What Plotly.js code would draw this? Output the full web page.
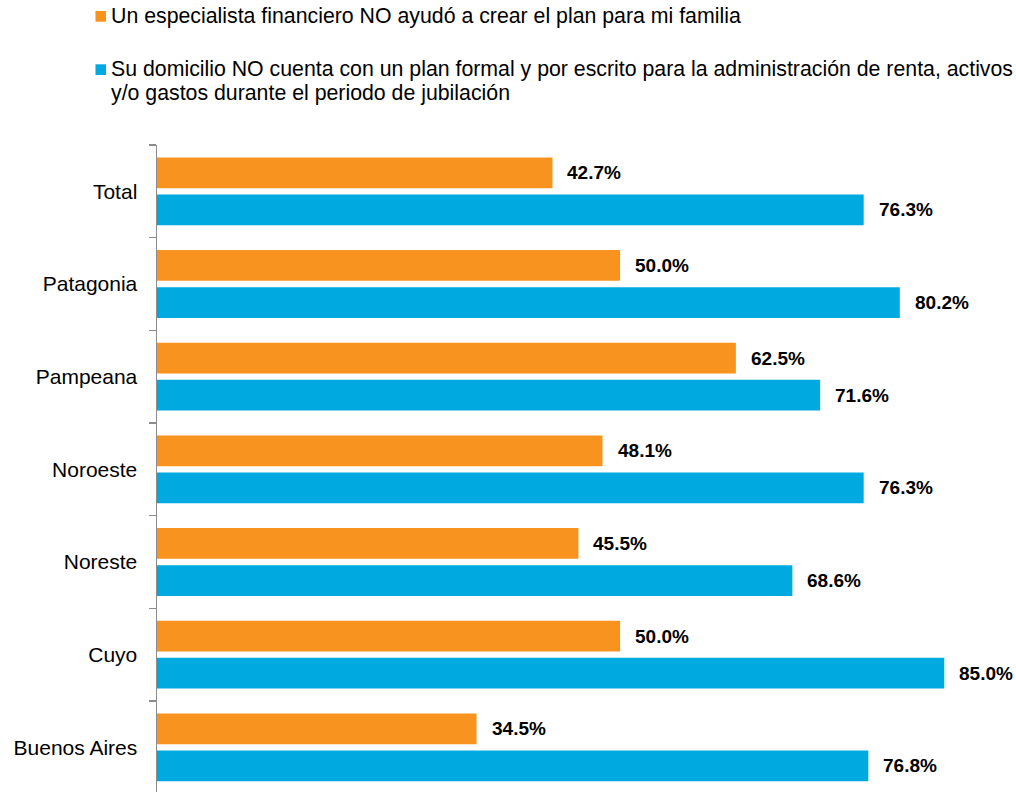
<!DOCTYPE html>
<html><head><meta charset="utf-8">
<script src="https://cdn.plot.ly/plotly-3.0.1.min.js"></script>
<style>html,body{margin:0;padding:0;background:#fff}#chart{width:1016px;height:792px}</style>
</head><body><div id="chart"></div>
<script>
const categories = ["Total", "Patagonia", "Pampeana", "Noroeste", "Noreste", "Cuyo", "Buenos Aires"];
const seriesNames = [
  "Un especialista financiero NO ayudó a crear el plan para mi familia",
  "Su domicilio NO cuenta con un plan formal y por escrito para la administración de renta, activos<br>y/o gastos durante el periodo de jubilación"
];
const asesorNo = [42.7, 50.0, 62.5, 48.1, 45.5, 50.0, 34.5];
const planNo   = [76.3, 80.2, 71.6, 76.3, 68.6, 85.0, 76.8];
const seriesValues = [asesorNo, planNo];
const colors = ["#F7931E", "#00A9E0"];

const FONT = "Liberation Sans, Arial, sans-serif";
const W = 1016, H = 792, L = 157, T = 145, B = 0, R = 0;
const pw = W - L - R, ph = H - T - B;
const px = x => (x - L) / pw;
const py = y => (H - B - y) / ph;

const traces = seriesValues.map((vals, s) => ({
  type: "bar", orientation: "h", name: seriesNames[s],
  y: categories, x: vals,
  marker: { color: colors[s], line: { width: 0 } },
  hoverinfo: "skip", showlegend: false
}));

const annotations = [];
seriesValues.forEach((vals, s) => {
  vals.forEach((v, i) => {
    annotations.push({
      x: v, y: categories[i], xref: "x", yref: "y",
      text: "<b>" + v.toFixed(1) + "%</b>", showarrow: false,
      xanchor: "left", yanchor: "middle", xshift: 13, yshift: s === 0 ? 18.5 : -18.5,
      font: { family: FONT, size: 19, color: "#000" }
    });
  });
});

// legend (text + swatches)
const legendRows = [16, 68.8];
const swatchTops = [11, 64.3];
const lineStep = 24.7;
seriesNames.forEach((nm, s) => {
  nm.split("<br>").forEach((line, k) => {
    annotations.push({
      x: px(109), y: py(legendRows[s] + k * lineStep), xref: "paper", yref: "paper",
      text: line, showarrow: false, align: "left",
      xanchor: "left", yanchor: "middle",
      font: { family: FONT, size: 21.3, color: "#000" }
    });
  });
});
const shapes = swatchTops.map((t, s) => ({
  type: "rect", xref: "paper", yref: "paper",
  x0: px(95.5), x1: px(106), y0: py(t + 10.7), y1: py(t),
  fillcolor: colors[s], line: { width: 0 }
}));

const layout = {
  width: W, height: H,
  margin: { l: L, r: R, t: T, b: B, pad: 0 },
  paper_bgcolor: "#fff", plot_bgcolor: "#fff",
  barmode: "group", bargap: 0.2, bargroupgap: 0.17,
  showlegend: false,
  font: { family: FONT, color: "#000" },
  xaxis: { range: [0, pw / 9.262], visible: false, fixedrange: true },
  yaxis: {
    type: "category", range: [6.482, -0.5], automargin: false,
    showline: true, linecolor: "#8c8c8c", linewidth: 1.5,
    ticks: "outside", ticklen: 7, tickwidth: 1.5, tickcolor: "#8c8c8c",
    tickson: "boundaries", showgrid: false, zeroline: false,
    tickfont: { family: FONT, size: 21, color: "#000" },
    ticklabelstandoff: 14, fixedrange: true
  },
  annotations: annotations,
  shapes: shapes
};

Plotly.newPlot("chart", traces, layout, { displayModeBar: false, staticPlot: true });
</script>
</body></html>
